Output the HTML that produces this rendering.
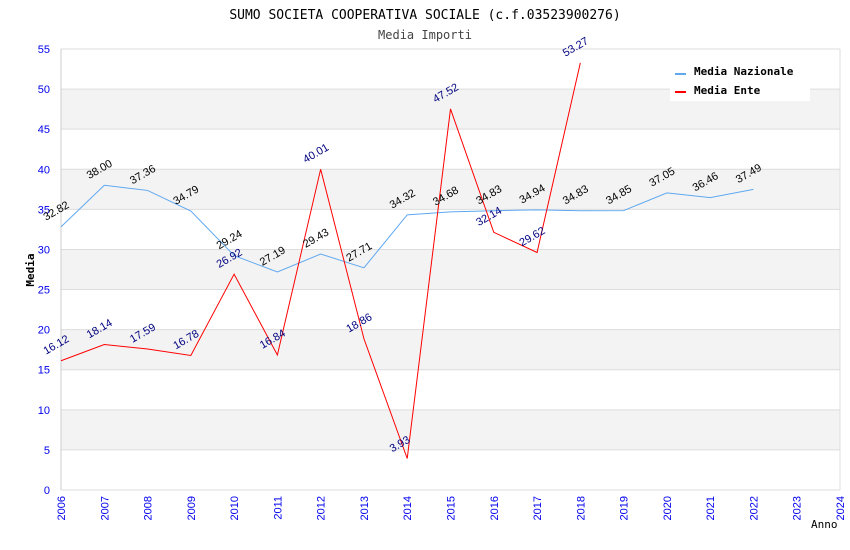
<!DOCTYPE html>
<html><head><meta charset="utf-8"><style>
body{margin:0;background:#fff}
svg{display:block}
text{font-family:"Liberation Sans",sans-serif}
.mono{font-family:"DejaVu Sans Mono","Liberation Mono",monospace}
</style></head><body>
<svg id="c" width="850" height="550">
<text class="mono" x="425" y="19" text-anchor="middle" font-size="13" fill="#000">SUMO SOCIETA COOPERATIVA SOCIALE (c.f.03523900276)</text>
<text class="mono" x="425" y="39" text-anchor="middle" font-size="12" fill="#444">Media Importi</text>
<g id="bands"></g><g id="grid"></g><g id="axes"></g><g id="series"></g><g id="labels"></g>
<text class="mono" x="34" y="270" transform="rotate(-90 34 270)" text-anchor="middle" font-size="11" font-weight="bold">Media</text>
<text class="mono" x="811" y="528" font-size="11">Anno</text>
<g>
<rect x="670" y="58" width="140" height="43" fill="#fff"/>
<line x1="675" y1="74" x2="686" y2="74" stroke="#5fa8f0" stroke-width="2"/>
<text class="mono" x="694" y="75" font-size="11" font-weight="bold">Media Nazionale</text>
<line x1="675" y1="92" x2="686" y2="92" stroke="#f00" stroke-width="2"/>
<text class="mono" x="694" y="94" font-size="11" font-weight="bold">Media Ente</text>
</g>
</svg>
<script>
const years=[2006,2007,2008,2009,2010,2011,2012,2013,2014,2015,2016,2017,2018,2019,2020,2021,2022,2023,2024];
const nazionale=[32.82,38.00,37.36,34.79,29.24,27.19,29.43,27.71,34.32,34.68,34.83,34.94,34.83,34.85,37.05,36.46,37.49];
const ente=[16.12,18.14,17.59,16.78,26.92,16.84,40.01,18.86,3.93,47.52,32.14,29.62,53.27];
const yTicks=[0,5,10,15,20,25,30,35,40,45,50,55];
const NS="http://www.w3.org/2000/svg";
const x0=61,x1=840,y0=490,y1=49;
const X=i=>x0+(x1-x0)*i/(years.length-1);
const Y=v=>y0-(y0-y1)*v/55;
function mk(t,a,p){const e=document.createElementNS(NS,t);for(const k in a)e.setAttribute(k,a[k]);p.appendChild(e);return e;}
const bands=document.getElementById('bands'),grid=document.getElementById('grid'),axes=document.getElementById('axes'),ser=document.getElementById('series'),lab=document.getElementById('labels');
for(let v=5;v<55;v+=10){const r=mk('rect',{x:x0,y:Y(v+5),width:x1-x0,height:Y(v)-Y(v+5),fill:'#f3f3f3'},bands);

}
yTicks.forEach(v=>{const l=mk('line',{x1:x0,x2:x1,y1:Y(v),y2:Y(v),stroke:'#ddd'},grid);


const t=mk('text',{x:50,y:Y(v)+4,'text-anchor':'end','font-size':11,fill:'#0000ee'},axes);t.textContent=v;

});
mk('line',{x1:x0,x2:x0,y1:y1,y2:y0,stroke:'#ccc'},axes);
mk('line',{x1:x1,x2:x1,y1:y1,y2:y0,stroke:'#ddd'},axes);
years.forEach((yr,i)=>{const t=mk('text',{x:X(i)+4,y:y0+6,'text-anchor':'end','font-size':11,fill:'#0000ee',transform:`rotate(-90 ${X(i)+4} ${y0+6})`},axes);t.textContent=yr;

});
function series(vals,color,lc,name){
const pl=mk('polyline',{points:vals.map((v,i)=>X(i)+','+Y(v)).join(' '),fill:'none',stroke:color,'stroke-width':1},ser);


vals.forEach((v,i)=>{const x=X(i)-15,y=Y(v)-6;const t=mk('text',{x:x,y:y,'font-size':11,fill:lc,transform:`rotate(-30 ${x} ${y})`},lab);t.textContent=v.toFixed(2);

});}
series(nazionale,'#5fa8f0','#000','nazionale');
series(ente,'#f00','#000080','ente');
</script>
</body></html>
